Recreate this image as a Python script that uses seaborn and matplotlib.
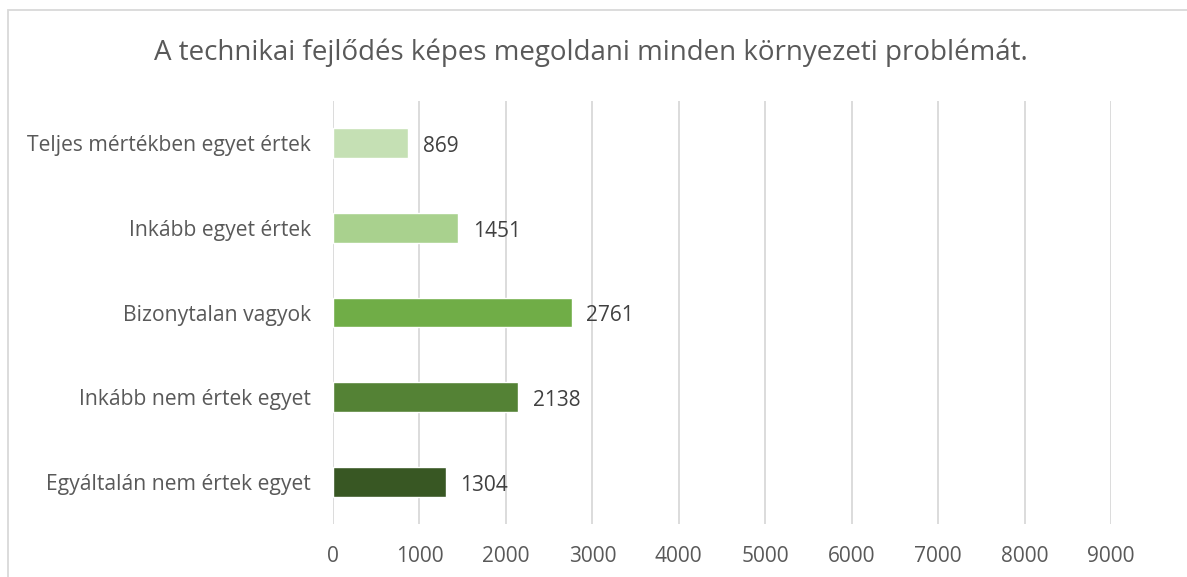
import matplotlib
matplotlib.use("Agg")
import matplotlib.pyplot as plt
import seaborn as sns
import pandas as pd
from matplotlib.patches import Rectangle

categories = ["Teljes mértékben egyet értek", "Inkább egyet értek", "Bizonytalan vagyok",
              "Inkább nem értek egyet", "Egyáltalán nem értek egyet"]
values = [869, 1451, 2761, 2138, 1304]
colors = ["#C5E0B4", "#A9D18E", "#70AD47", "#548235", "#385723"]
xticks = [0, 1000, 2000, 3000, 4000, 5000, 6000, 7000, 8000, 9000]
title = "A technikai fejlődés képes megoldani minden környezeti problémát."

sns.set_theme(style="white")
plt.rcParams['font.family'] = ['Open Sans', 'DejaVu Sans']

W, H = 1187, 577
fig = plt.figure(figsize=(W / 100, H / 100), dpi=100)
ax = fig.add_axes([333 / W, 1 - 524 / H, (1111 - 333) / W, (524 - 101) / H])

df = pd.DataFrame({"cat": categories, "val": values})
sns.barplot(data=df, x="val", y="cat", hue="cat", palette=colors, legend=False,
            width=0.35, ax=ax, saturation=1)

ax.set_xlim(0, 9000)
ax.set_ylim(4.5, -0.5)
ax.set_xticks(xticks)
ax.set_xticklabels([str(t) for t in xticks], fontsize=15, color="#595959")
ax.tick_params(axis="y", labelsize=15.2, labelcolor="#595959", length=0, pad=16)
ax.tick_params(axis="x", length=0, pad=16)
ax.set_xlabel("")
ax.set_ylabel("")
ax.grid(axis="x", color="#D9D9D9", linewidth=1.3)
ax.set_axisbelow(True)
for s in ax.spines.values():
    s.set_visible(False)

for i, v in enumerate(values):
    ax.text(v + 170, i + 0.04, str(v), va="center", ha="left", fontsize=15, color="#404040")

fig.text(591 / W, 1 - 53 / H, title, ha="center", va="center", fontsize=20, color="#595959")

fig.patches.append(Rectangle((8 / W, -0.1), 1.2, 1 - 10 / H + 0.1, transform=fig.transFigure,
                             fill=False, edgecolor="#D9D9D9", linewidth=1.3))

fig.savefig("out.png", dpi=100)
